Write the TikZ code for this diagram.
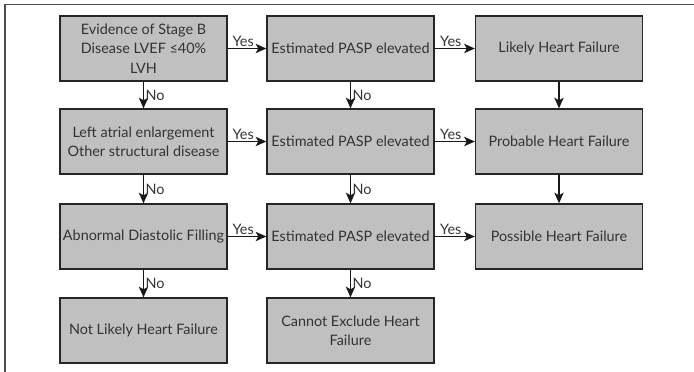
\documentclass[tikz,border=0pt]{standalone}
\usepackage{fontspec}
\setmainfont{Lato}
\usetikzlibrary{arrows.meta}
\definecolor{boxgray}{HTML}{C0C0C0}

\begin{document}
\begin{tikzpicture}
      [x=0.75pt,y=-0.75pt,
       step box/.style={rectangle,draw=black!85,fill=boxgray,line width=1pt,
         minimum width=125.25pt,minimum height=48.75pt,align=center,
         inner sep=2pt,font=\fontsize{10.8}{14.6}\selectfont,text=black!80},
       flow/.style={-{Stealth[length=8pt,width=7pt,inset=2pt]},line width=1pt,black!90},
       lbl/.style={font=\fontsize{10.8}{13}\selectfont,text=black!80,inner sep=1pt}]
        \useasboundingbox (0,0) rectangle (694,372);
        \draw[black!70,line width=1pt] (5,380) -- (5,4.5) -- (700,4.5);

        \node[step box] (stageb) at (143.5,48.5) {Evidence of Stage B\\Disease LVEF ≤40\%\\LVH};
        \node[step box] (atrial) at (143.5,141.5) {Left atrial enlargement\\Other structural disease};
        \node[step box] (filling) at (143.5,236.5) {Abnormal Diastolic Filling};
        \node[step box] (notlikely) at (143.5,330.5) {Not Likely Heart Failure};

        \node[step box] (pasp1) at (350.5,48.5) {Estimated PASP elevated};
        \node[step box] (pasp2) at (350.5,141.5) {Estimated PASP elevated};
        \node[step box] (pasp3) at (350.5,236.5) {Estimated PASP elevated};
        \node[step box] (noexcl) at (350.5,330.5) {Cannot Exclude Heart\\Failure};

        \node[step box] (likely) at (559,48.5) {Likely Heart Failure};
        \node[step box] (probable) at (559,141.5) {Probable Heart Failure};
        \node[step box] (possible) at (559,236.5) {Possible Heart Failure};

        % yes branches
        \draw[flow] (stageb) -- node[lbl,above,pos=0.4] {Yes} (pasp1);
        \draw[flow] (atrial) -- node[lbl,above,pos=0.4] {Yes} (pasp2);
        \draw[flow] (filling) -- node[lbl,above,pos=0.4] {Yes} (pasp3);
        \draw[flow] (pasp1) -- node[lbl,above,pos=0.4] {Yes} (likely);
        \draw[flow] (pasp2) -- node[lbl,above,pos=0.4] {Yes} (probable);
        \draw[flow] (pasp3) -- node[lbl,above,pos=0.4] {Yes} (possible);

        % no branches
        \draw[flow] (stageb) -- node[lbl,right] {No} (atrial);
        \draw[flow] (atrial) -- node[lbl,right] {No} (filling);
        \draw[flow] (filling) -- node[lbl,right] {No} (notlikely);
        \draw[flow] (pasp1) -- node[lbl,right] {No} (pasp2);
        \draw[flow] (pasp2) -- node[lbl,right] {No} (pasp3);
        \draw[flow] (pasp3) -- node[lbl,right] {No} (noexcl);

        \draw[flow] (likely) -- (probable);
        \draw[flow] (probable) -- (possible);

      \end{tikzpicture}
\end{document}
